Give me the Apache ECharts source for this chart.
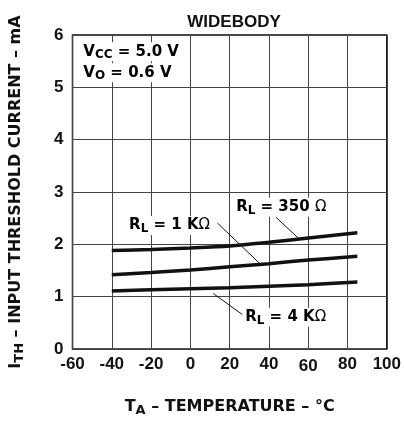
<!DOCTYPE html>
<html>
<head>
<meta charset="utf-8">
<script src="https://cdn.jsdelivr.net/npm/echarts@6/dist/echarts.min.js"></script>
<style>html,body{margin:0;padding:0;background:#fff}#c{width:404px;height:422px}</style>
</head>
<body>
<div id="c"></div>
<script>
const temps = [-40, -20, 0, 20, 40, 60, 85];
const rl350 = [1.88, 1.90, 1.93, 1.97, 2.04, 2.12, 2.22];
const rl1k  = [1.42, 1.46, 1.51, 1.57, 1.63, 1.70, 1.77];
const rl4k  = [1.11, 1.13, 1.15, 1.17, 1.20, 1.23, 1.28];
const xTicks = [-60, -40, -20, 0, 20, 40, 60, 80, 100];
const yTicks = [0, 1, 2, 3, 4, 5, 6];

const DV = 'DejaVu Sans';
const LB = 'Liberation Sans';
const C = '#111';
const nameRich = {
  b: {fontFamily: DV, fontSize: 16, fontWeight: 'bold', color: C},
  s: {fontFamily: DV, fontSize: 13, fontWeight: 'bold', color: C, padding: [8, 0, 0, 0]}
};
const labRich = {
  b: {fontFamily: DV, fontSize: 15, fontWeight: 'bold', color: C},
  s: {fontFamily: DV, fontSize: 12, fontWeight: 'bold', color: C, padding: [7, 0, 0, 0]},
  o: {fontFamily: DV, fontSize: 15, fontWeight: 'normal', color: C}
};
const pair = (xs, ys) => xs.map((x, i) => [x, ys[i]]);

const chart = echarts.init(document.getElementById('c'), null, {renderer: 'canvas'});
const lineStyle = {color: C, width: 3.5};
const leader = (pts) => ({
  type: 'line', data: pts, symbol: 'none', silent: true,
  lineStyle: {color: C, width: 1}, z: 3
});
const tickFont = {fontFamily: LB, fontSize: 17, fontWeight: 'bold', color: C};
chart.setOption({
  animation: false,
  title: {
    text: 'WIDEBODY', left: 229, top: 9, textAlign: 'center',
    textStyle: {fontFamily: LB, fontSize: 17, fontWeight: 'bold', color: C}
  },
  grid: {left: 71, right: 16, top: 35, bottom: 71, show: true, borderColor: C, borderWidth: 1.5},
  xAxis: {
    type: 'value', min: -60, max: 100, interval: 20,
    name: '{b|T}{s|A}{b| – TEMPERATURE – °C}', nameLocation: 'middle', nameGap: 47,
    nameTextStyle: {rich: nameRich},
    axisLine: {show: false}, axisTick: {show: false},
    axisLabel: Object.assign({margin: 7, customValues: xTicks,
      formatter: v => v === 60 ? '{d|60}' : String(v),
      rich: {d: Object.assign({padding: [2, 0, 0, 0]}, tickFont)}}, tickFont),
    splitLine: {show: true, lineStyle: {color: '#444', width: 1}}
  },
  yAxis: {
    type: 'value', min: 0, max: 6, interval: 1,
    name: '{b|I}{s|TH}{b| – INPUT THRESHOLD CURRENT – mA}', nameLocation: 'middle', nameGap: 46, nameRotate: 90,
    nameTextStyle: {rich: nameRich},
    axisLine: {show: false}, axisTick: {show: false},
    axisLabel: Object.assign({margin: 9, customValues: yTicks}, tickFont),
    splitLine: {show: true, lineStyle: {color: '#444', width: 1}}
  },
  series: [
    {name: 'RL = 350 Ω', type: 'line', data: pair(temps, rl350), symbol: 'none', smooth: 0.3, lineStyle: lineStyle, z: 4},
    {name: 'RL = 1 KΩ', type: 'line', data: pair(temps, rl1k), symbol: 'none', smooth: 0.3, lineStyle: lineStyle, z: 4},
    {name: 'RL = 4 KΩ', type: 'line', data: pair(temps, rl4k), symbol: 'none', smooth: 0.3, lineStyle: lineStyle, z: 4},
    leader([[43.5, 2.52], [55.2, 2.11]]),
    leader([[13.7, 2.41], [36.5, 1.59]]),
    leader([[11.7, 1.06], [26.4, 0.66]])
  ]
});

const labels = [
  {x: 23.3, y: 2.89, t: '{b|R}{s|L}{b| = 350 }{o|Ω}'},
  {x: -31.2, y: 2.54, t: '{b|R}{s|L}{b| = 1 K}{o|Ω}'},
  {x: 27.9, y: 0.79, t: '{b|R}{s|L}{b| = 4 K}{o|Ω}'},
  {x: -54.5, y: 5.86, t: '{b|V}{s|CC}{b| = 5.0 V}'},
  {x: -54.5, y: 5.46, t: '{b|V}{s|O}{b| = 0.6 V}'}
];
chart.setOption({
  graphic: labels.map(l => {
    const p = chart.convertToPixel({gridIndex: 0}, [l.x, l.y]);
    return {
      type: 'text', left: p[0], top: p[1], z: 10,
      style: {text: l.t, rich: labRich, backgroundColor: '#fff'}
    };
  })
});
</script>
</body>
</html>
